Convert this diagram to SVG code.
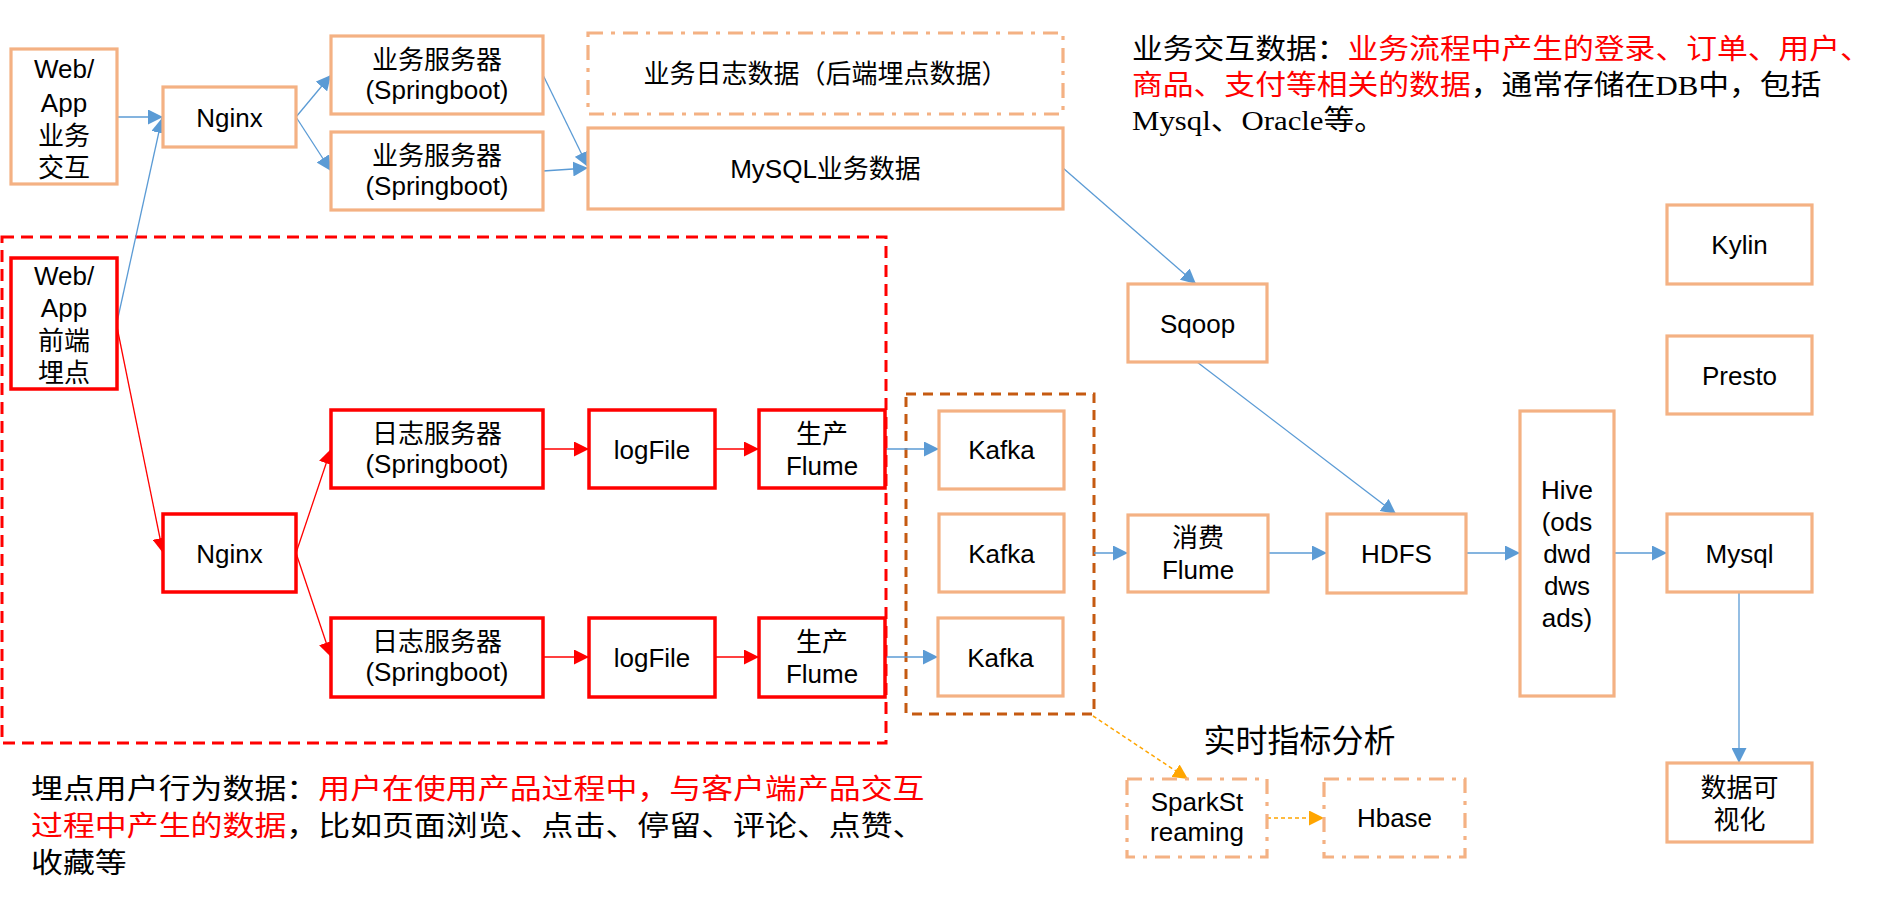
<svg xmlns="http://www.w3.org/2000/svg" width="1884" height="902" viewBox="0 0 1884 902">
<defs>
<style>
.o{fill:#fff;stroke:#F4B183;stroke-width:3.2}
.od{fill:#fff;stroke:#F4B183;stroke-width:3.2;stroke-dasharray:15 8 4 8}
.r{fill:#fff;stroke:#FF0000;stroke-width:3.5}
.t{font-family:"Liberation Sans","Noto Sans CJK SC",sans-serif;font-size:26px;fill:#000;text-anchor:middle}
.d{font-family:"Liberation Serif","Noto Sans CJK SC",serif;font-size:28px;fill:#000}
.red{fill:#FF0000}
.b{stroke:#5B9BD5;stroke-width:1.3;fill:none;marker-end:url(#ab)}
.rl{stroke:#FF0000;stroke-width:1.3;fill:none;marker-end:url(#ar)}
.y{stroke:#FFA500;stroke-width:1.5;stroke-dasharray:4 3;fill:none;marker-end:url(#ay)}
</style>
<marker id="ab" markerUnits="userSpaceOnUse" viewBox="0 0 15 15" refX="15" refY="7.5" markerWidth="15" markerHeight="15" orient="auto"><path d="M0,0 L15,7.5 L0,15 z" fill="#5B9BD5"/></marker>
<marker id="ar" markerUnits="userSpaceOnUse" viewBox="0 0 15 15" refX="15" refY="7.5" markerWidth="15" markerHeight="15" orient="auto"><path d="M0,0 L15,7.5 L0,15 z" fill="#FF0000"/></marker>
<marker id="ay" markerUnits="userSpaceOnUse" viewBox="0 0 15 15" refX="15" refY="7.5" markerWidth="15" markerHeight="15" orient="auto"><path d="M0,0 L15,7.5 L0,15 z" fill="#FFA500"/></marker>
</defs>
<rect width="1884" height="902" fill="#fff"/>

<g id="group-maidian">
<rect x="2" y="237" width="884" height="506" fill="none" stroke="#FF0000" stroke-width="3" stroke-dasharray="12 7"/>
</g>
<g id="group-kafka">
<rect x="906" y="394" width="188" height="320" fill="none" stroke="#C55A11" stroke-width="3" stroke-dasharray="10 7"/>
</g>

<g id="connectors">
<line class="b" x1="117" y1="117" x2="163" y2="117"/>
<line class="b" x1="117" y1="322" x2="162" y2="118"/>
<line class="b" x1="296" y1="117" x2="331" y2="75"/>
<line class="b" x1="296" y1="117" x2="331" y2="171"/>
<line class="b" x1="543" y1="75" x2="588" y2="167"/>
<line class="b" x1="543" y1="171" x2="588" y2="168"/>
<line class="b" x1="1063" y1="168" x2="1196" y2="284"/>
<line class="b" x1="1197" y1="362" x2="1396" y2="514"/>
<line class="b" x1="885" y1="449" x2="939" y2="449"/>
<line class="b" x1="885" y1="657" x2="938" y2="657"/>
<line class="b" x1="1094" y1="553" x2="1128" y2="553"/>
<line class="b" x1="1268" y1="553" x2="1327" y2="553"/>
<line class="b" x1="1466" y1="553" x2="1520" y2="553"/>
<line class="b" x1="1614" y1="553" x2="1667" y2="553"/>
<line class="b" x1="1739" y1="592" x2="1739" y2="763"/>
<line class="rl" x1="117" y1="327" x2="163" y2="553"/>
<line class="rl" x1="296" y1="553" x2="331" y2="449"/>
<line class="rl" x1="296" y1="553" x2="331" y2="657"/>
<line class="rl" x1="543" y1="449" x2="589" y2="449"/>
<line class="rl" x1="715" y1="449" x2="759" y2="449"/>
<line class="rl" x1="543" y1="657" x2="589" y2="657"/>
<line class="rl" x1="715" y1="657" x2="759" y2="657"/>
<line class="y" x1="1093" y1="716" x2="1188" y2="779"/>
<line class="y" x1="1267" y1="818" x2="1324" y2="818"/>
</g>

<g id="webapp-biz"><rect class="o" x="11" y="49" width="106" height="135"/>
<text class="t"><tspan x="64" y="78">Web/</tspan><tspan x="64" y="112">App</tspan><tspan x="64" y="145">业务</tspan><tspan x="64" y="177">交互</tspan></text></g>
<g id="nginx1"><rect class="o" x="163" y="87" width="133" height="60"/><text class="t" x="229.5" y="127">Nginx</text></g>
<g id="bizsrv1"><rect class="o" x="331" y="36" width="212" height="78"/>
<text class="t"><tspan x="437" y="69">业务服务器</tspan><tspan x="437" y="99">(Springboot)</tspan></text></g>
<g id="bizsrv2"><rect class="o" x="331" y="132" width="212" height="78"/>
<text class="t"><tspan x="437" y="165">业务服务器</tspan><tspan x="437" y="195">(Springboot)</tspan></text></g>
<g id="bizlog"><rect class="od" x="588" y="33" width="475" height="81"/><text class="t" x="825.5" y="83">业务日志数据（后端埋点数据）</text></g>
<g id="mysqlbiz"><rect class="o" x="588" y="128" width="475" height="81"/><text class="t" x="825.5" y="178">MySQL业务数据</text></g>
<g id="sqoop"><rect class="o" x="1128" y="284" width="139" height="78"/><text class="t" x="1197.5" y="333">Sqoop</text></g>
<g id="kylin"><rect class="o" x="1667" y="205" width="145" height="79"/><text class="t" x="1739.5" y="254">Kylin</text></g>
<g id="presto"><rect class="o" x="1667" y="336" width="145" height="78"/><text class="t" x="1739.5" y="385">Presto</text></g>

<g id="webapp-fe"><rect class="r" x="11" y="258" width="106" height="131"/>
<text class="t"><tspan x="64" y="285">Web/</tspan><tspan x="64" y="317">App</tspan><tspan x="64" y="350">前端</tspan><tspan x="64" y="382">埋点</tspan></text></g>
<g id="nginx2"><rect class="r" x="163" y="514" width="133" height="78"/><text class="t" x="229.5" y="563">Nginx</text></g>
<g id="logsrv1"><rect class="r" x="331" y="410" width="212" height="78"/>
<text class="t"><tspan x="437" y="443">日志服务器</tspan><tspan x="437" y="473">(Springboot)</tspan></text></g>
<g id="logsrv2"><rect class="r" x="331" y="618" width="212" height="79"/>
<text class="t"><tspan x="437" y="651">日志服务器</tspan><tspan x="437" y="681">(Springboot)</tspan></text></g>
<g id="logfile1"><rect class="r" x="589" y="410" width="126" height="78"/><text class="t" x="652" y="459">logFile</text></g>
<g id="logfile2"><rect class="r" x="589" y="618" width="126" height="79"/><text class="t" x="652" y="667">logFile</text></g>
<g id="flume1"><rect class="r" x="759" y="410" width="126" height="78"/>
<text class="t"><tspan x="822" y="443">生产</tspan><tspan x="822" y="475">Flume</tspan></text></g>
<g id="flume2"><rect class="r" x="759" y="618" width="126" height="79"/>
<text class="t"><tspan x="822" y="651">生产</tspan><tspan x="822" y="683">Flume</tspan></text></g>

<g id="kafka1"><rect class="o" x="939" y="411" width="125" height="78"/><text class="t" x="1001.5" y="459">Kafka</text></g>
<g id="kafka2"><rect class="o" x="939" y="514" width="125" height="78"/><text class="t" x="1001.5" y="563">Kafka</text></g>
<g id="kafka3"><rect class="o" x="938" y="618" width="125" height="78"/><text class="t" x="1000.5" y="667">Kafka</text></g>
<g id="consume-flume"><rect class="o" x="1128" y="515" width="140" height="77"/>
<text class="t"><tspan x="1198" y="547">消费</tspan><tspan x="1198" y="579">Flume</tspan></text></g>
<g id="hdfs"><rect class="o" x="1327" y="514" width="139" height="79"/><text class="t" x="1396.5" y="563">HDFS</text></g>
<g id="hive"><rect class="o" x="1520" y="411" width="94" height="285"/>
<text class="t"><tspan x="1567" y="499">Hive</tspan><tspan x="1567" y="531">(ods</tspan><tspan x="1567" y="563">dwd</tspan><tspan x="1567" y="595">dws</tspan><tspan x="1567" y="627">ads)</tspan></text></g>
<g id="mysql"><rect class="o" x="1667" y="514" width="145" height="78"/><text class="t" x="1739.5" y="563">Mysql</text></g>
<g id="datavis"><rect class="o" x="1667" y="763" width="145" height="79"/>
<text class="t"><tspan x="1739.5" y="797">数据可</tspan><tspan x="1739.5" y="829">视化</tspan></text></g>
<g id="sparkstreaming"><rect class="od" x="1127" y="779" width="140" height="78"/>
<text class="t"><tspan x="1197" y="811">SparkSt</tspan><tspan x="1197" y="841">reaming</tspan></text></g>
<g id="hbase"><rect class="od" x="1324" y="779" width="141" height="78"/><text class="t" x="1394.5" y="827">Hbase</text></g>

<g id="label-realtime"><text x="1299.5" y="752" style="font-family:'Liberation Sans','Noto Sans CJK SC',sans-serif;font-size:32px;text-anchor:middle">实时指标分析</text></g>

<g id="desc-biz">
<text class="d" transform="translate(1132,59) scale(1.1,1)">业务交互数据：<tspan class="red">业务流程中产生的登录、订单、用户、</tspan></text>
<text class="d" transform="translate(1132,95) scale(1.1,1)"><tspan class="red">商品、支付等相关的数据</tspan>，通常存储在DB中，包括</text>
<text class="d" transform="translate(1132,130) scale(1.1,1)">Mysql、Oracle等。</text>
</g>
<g id="desc-maidian">
<text class="d" transform="translate(31,799) scale(1.14,1)">埋点用户行为数据：<tspan class="red">用户在使用产品过程中，与客户端产品交互</tspan></text>
<text class="d" transform="translate(31,836) scale(1.14,1)"><tspan class="red">过程中产生的数据</tspan>，比如页面浏览、点击、停留、评论、点赞、</text>
<text class="d" transform="translate(31,873) scale(1.14,1)">收藏等</text>
</g>
</svg>
